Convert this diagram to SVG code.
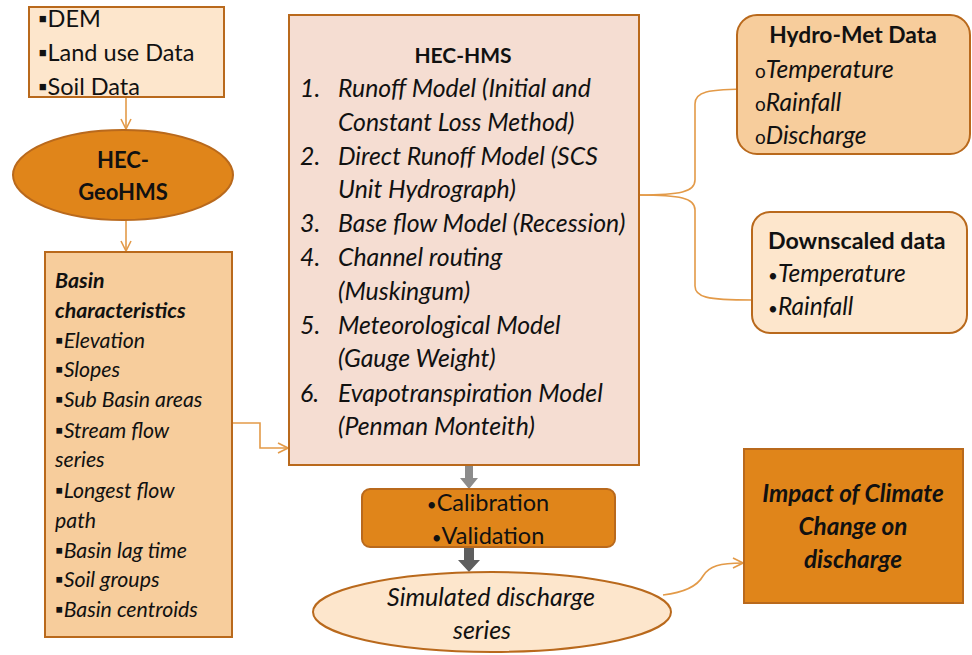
<svg xmlns="http://www.w3.org/2000/svg" width="972" height="655" viewBox="0 0 972 655">
<defs>
<style>
.t{font-family:Lato,"Open Sans","Liberation Sans",sans-serif;fill:#111;}
.b{font-weight:bold;}
.i{font-style:italic;}
.box{stroke:#b9691c;stroke-width:2;}
.conn{fill:none;stroke:#e39a48;stroke-width:1.6;}
</style>
<marker id="oa" viewBox="0 0 12 12" refX="11" refY="6" markerWidth="12" markerHeight="12" markerUnits="userSpaceOnUse" orient="auto">
<path d="M1,1 L11,6 L1,11" fill="none" stroke="#e39a48" stroke-width="1.6"/>
</marker>
</defs>
<rect width="972" height="655" fill="#fff"/>

<g id="connectors">
<path class="conn" d="M126,97 L126,129" marker-end="url(#oa)"/>
<path class="conn" d="M126,220 L126,251" marker-end="url(#oa)"/>
<path class="conn" d="M232,423 L260,423 L260,448 L288,448" marker-end="url(#oa)"/>
<path class="conn" d="M639,195 C680,195 695,192 695,180 L695,104 C695,92 706,89 752,89"/>
<path class="conn" d="M639,195 C680,195 695,198 695,210 L695,286 C695,297 706,300 752,300"/>
<path class="conn" d="M663,595 C688,592 698,585 703,576 C709,566 720,563 743,563" marker-end="url(#oa)"/>
<path d="M465,465 L473,465 L473,478 L478,478 L469,489 L460,478 L465,478 Z" fill="#8c8c8c"/>
<path d="M464,547 L474,547 L474,560 L480,560 L469,572 L458,560 L464,560 Z" fill="#5e5e5e"/>
</g>

<g id="inputs">
<rect class="box" x="29" y="7" width="195" height="90" fill="#fde6cc"/>
<text class="t" font-size="23.5" x="38" y="27">▪DEM</text>
<text class="t" font-size="23.5" x="38" y="61">▪Land use Data</text>
<text class="t" font-size="23.5" x="38" y="95">▪Soil Data</text>
</g>

<g id="geohms">
<ellipse class="box" cx="123" cy="175" rx="110" ry="45" fill="#e0851a"/>
<text class="t b" font-size="22" x="123" y="168" text-anchor="middle">HEC-</text>
<text class="t b" font-size="22" x="123" y="200" text-anchor="middle">GeoHMS</text>
</g>

<g id="basin">
<rect class="box" x="45" y="252" width="187" height="385" fill="#f7cd9c"/>
<g class="t i" font-size="21.3">
<text class="b" x="55" y="288">Basin</text>
<text class="b" x="55" y="318">characteristics</text>
<text x="55" y="348"><tspan font-style="normal">▪</tspan>Elevation</text>
<text x="55" y="377"><tspan font-style="normal">▪</tspan>Slopes</text>
<text x="55" y="407"><tspan font-style="normal">▪</tspan>Sub Basin areas</text>
<text x="55" y="438"><tspan font-style="normal">▪</tspan>Stream flow</text>
<text x="55" y="467">series</text>
<text x="55" y="498"><tspan font-style="normal">▪</tspan>Longest flow</text>
<text x="55" y="528">path</text>
<text x="55" y="558"><tspan font-style="normal">▪</tspan>Basin lag time</text>
<text x="55" y="587"><tspan font-style="normal">▪</tspan>Soil groups</text>
<text x="55" y="617"><tspan font-style="normal">▪</tspan>Basin centroids</text>
</g>
</g>

<g id="hechms">
<rect class="box" x="289" y="15" width="350" height="450" fill="#f5ddd2"/>
<text class="t b" font-size="21" x="463" y="63" text-anchor="middle">HEC-HMS</text>
<g class="t i" font-size="24.8">
<text x="300" y="97">1.</text><text x="338" y="97">Runoff Model (Initial and</text>
<text x="338" y="131">Constant Loss Method)</text>
<text x="300" y="165">2.</text><text x="338" y="165">Direct Runoff Model (SCS</text>
<text x="338" y="198">Unit Hydrograph)</text>
<text x="300" y="232">3.</text><text x="338" y="232">Base flow Model (Recession)</text>
<text x="300" y="266">4.</text><text x="338" y="266">Channel routing</text>
<text x="338" y="300">(Muskingum)</text>
<text x="300" y="334">5.</text><text x="338" y="334">Meteorological Model</text>
<text x="338" y="367">(Gauge Weight)</text>
<text x="300" y="402">6.</text><text x="338" y="402">Evapotranspiration Model</text>
<text x="338" y="435">(Penman Monteith)</text>
</g>
</g>

<g id="hydromet">
<rect class="box" x="737" y="15" width="233" height="139" rx="20" fill="#f7cd9c"/>
<text class="t b" font-size="22.8" x="853" y="43" text-anchor="middle">Hydro-Met Data</text>
<g class="t i" font-size="24.5">
<text x="755" y="78"><tspan font-style="normal" font-size="19">o</tspan>Temperature</text>
<text x="755" y="111"><tspan font-style="normal" font-size="19">o</tspan>Rainfall</text>
<text x="755" y="144"><tspan font-style="normal" font-size="19">o</tspan>Discharge</text>
</g>
</g>

<g id="downscaled">
<rect class="box" x="752" y="212" width="215" height="121" rx="18" fill="#fde6cc"/>
<text class="t b" font-size="23.2" x="768" y="249">Downscaled data</text>
<g class="t i" font-size="24.5">
<text x="768" y="282"><tspan font-style="normal" font-size="17">•</tspan>Temperature</text>
<text x="768" y="315"><tspan font-style="normal" font-size="17">•</tspan>Rainfall</text>
</g>
</g>

<g id="calibration">
<rect class="box" x="362" y="489" width="253" height="58" rx="8" fill="#e0851a"/>
<text class="t" font-size="23.5" x="488" y="511" text-anchor="middle"><tspan font-size="17">•</tspan>Calibration</text>
<text class="t" font-size="23.5" x="488" y="544" text-anchor="middle"><tspan font-size="17">•</tspan>Validation</text>
</g>

<g id="simulated">
<ellipse class="box" cx="492" cy="612" rx="179" ry="40" fill="#fde6cc"/>
<text class="t i" font-size="25" x="491" y="606" text-anchor="middle">Simulated discharge</text>
<text class="t i" font-size="25" x="482" y="639" text-anchor="middle">series</text>
</g>

<g id="impact">
<rect class="box" x="744" y="449" width="219" height="154" fill="#e0851a"/>
<g class="t b i" font-size="24.3" text-anchor="middle">
<text x="853" y="502">Impact of Climate</text>
<text x="853" y="535">Change on</text>
<text x="853" y="568">discharge</text>
</g>
</g>
</svg>
